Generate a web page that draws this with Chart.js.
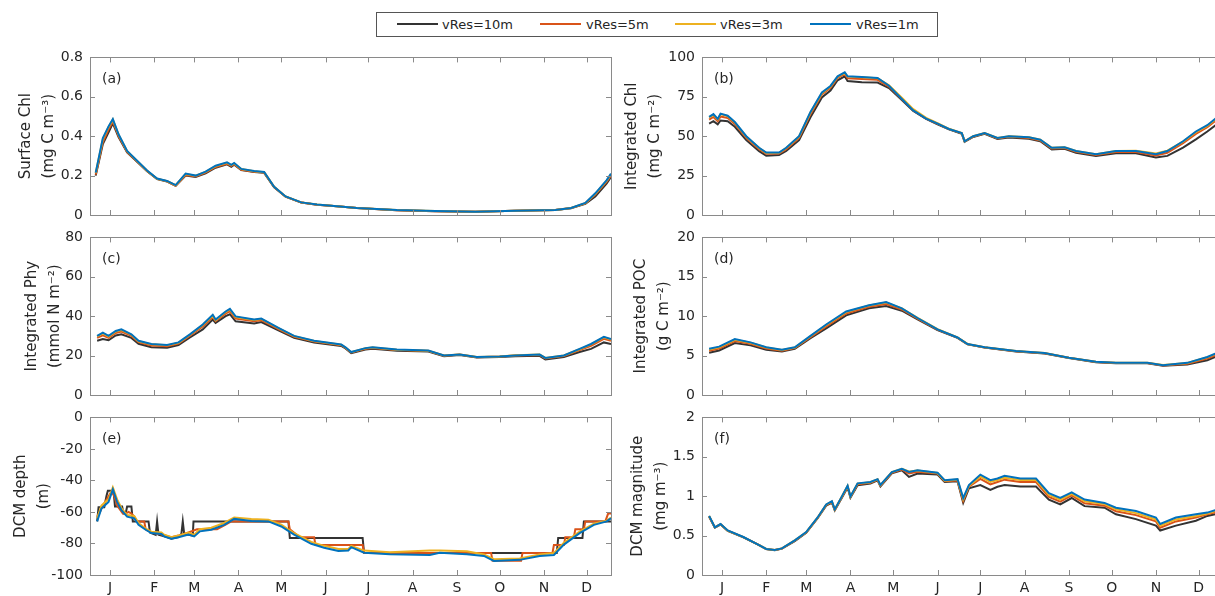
<!DOCTYPE html>
<html lang="en">
<head>
<meta charset="UTF-8">
<title>Vertical resolution comparison</title>
<script src="https://cdn.jsdelivr.net/npm/chart.js"></script>
<style>
  html, body { margin: 0; padding: 0; background: #fff; }
  body { width: 1215px; height: 596px; overflow: hidden; position: relative; font-family: "DejaVu Sans", sans-serif; color: #262626; }
  canvas { position: absolute; }
  #legend { position: absolute; left: 376px; top: 12px; width: 560px; height: 23px; border: 1px solid #555; }
  #legend .ln { position: absolute; top: 10px; width: 41px; height: 2px; }
  #legend .tx { position: absolute; top: 0; line-height: 23px; font-size: 13px; white-space: nowrap; }
</style>
</head>
<body>
  <div id="legend">
    <span class="ln" style="left:20px;background:#333333"></span><span class="tx" style="left:65px">vRes=10m</span>
    <span class="ln" style="left:163px;background:#D95319"></span><span class="tx" style="left:209px">vRes=5m</span>
    <span class="ln" style="left:298px;background:#EDB120"></span><span class="tx" style="left:343px">vRes=3m</span>
    <span class="ln" style="left:433px;background:#0072BD"></span><span class="tx" style="left:479px">vRes=1m</span>
  </div>
  <canvas id="pa" width="617" height="194" style="left:0;top:42px"></canvas>
  <canvas id="pb" width="617" height="194" style="left:612px;top:42px"></canvas>
  <canvas id="pc" width="617" height="194" style="left:0;top:222px"></canvas>
  <canvas id="pd" width="617" height="194" style="left:612px;top:222px"></canvas>
  <canvas id="pe" width="617" height="194" style="left:0;top:402px"></canvas>
  <canvas id="pf" width="617" height="194" style="left:612px;top:402px"></canvas>
<script>
// month ticks (mid-month day of year) and labels
const monthDays = [15, 46, 74, 105, 135, 166, 196, 227, 258, 288, 319, 349];
const monthLabels = ['J', 'F', 'M', 'A', 'M', 'J', 'J', 'A', 'S', 'O', 'N', 'D'];
const resLabels = ['vRes=10m', 'vRes=5m', 'vRes=3m', 'vRes=1m'];
const resColors = ['#333333', '#D95319', '#EDB120', '#0072BD'];

// (a) surface chl
const aDays = [5,10,14,17,21,27,34,41,48,55,61,68,75,82,89,97,100,102,107,116,123,130,138,149,160,174,188,216,243,271,299,327,338,348,355,363,366];
const aRes10 = [0.2,0.36,0.42,0.465,0.395,0.318,0.27,0.222,0.182,0.17,0.148,0.2,0.193,0.212,0.24,0.257,0.245,0.255,0.228,0.218,0.214,0.141,0.093,0.063,0.052,0.044,0.035,0.024,0.019,0.016,0.021,0.025,0.034,0.057,0.094,0.16,0.193];
const aRes5 = [0.205,0.37,0.435,0.475,0.4,0.32,0.272,0.223,0.183,0.171,0.149,0.203,0.195,0.215,0.244,0.26,0.249,0.258,0.23,0.22,0.216,0.142,0.093,0.063,0.052,0.044,0.035,0.024,0.019,0.016,0.021,0.025,0.035,0.059,0.104,0.17,0.2];
const aRes3 = [0.213,0.385,0.447,0.484,0.408,0.324,0.274,0.225,0.184,0.172,0.151,0.208,0.199,0.219,0.248,0.265,0.253,0.262,0.233,0.222,0.217,0.143,0.094,0.064,0.053,0.045,0.036,0.025,0.02,0.017,0.022,0.026,0.036,0.06,0.107,0.174,0.207];
const aRes1 = [0.215,0.39,0.45,0.487,0.41,0.325,0.275,0.226,0.185,0.173,0.152,0.21,0.2,0.22,0.25,0.267,0.255,0.264,0.234,0.223,0.218,0.143,0.094,0.064,0.053,0.045,0.036,0.025,0.02,0.017,0.022,0.026,0.036,0.061,0.11,0.177,0.21];

// (b) integrated chl
const bDays = [6,9,12,14,19,24,32,41,46,55,60,69,77,85,91,96,101,103,113,124,132,141,149,158,166,174,183,185,191,199,208,216,230,238,246,255,263,277,291,305,319,327,338,347,355,366];
const bRes10 = [58,59.5,57.5,60,59.5,56,47.5,40.5,37.6,38,40.6,47.5,62,74.6,79,85.5,88,85,84.3,84,80.5,73,66,61,57.6,54.3,51.6,46.5,49.5,51.5,48.2,49.2,48.4,46.8,41.6,42,39.5,37.5,39.2,39.2,36.5,37.5,42.7,48,53,60.5];
const bRes5 = [60.5,62.2,59.5,62.5,61.5,57.8,49,41.8,38.8,39,41.8,49,64,76.5,80.7,87,89.5,86.8,86.3,85.8,81.5,73.4,66.3,61.2,57.9,54.5,51.8,46.7,49.8,51.8,48.6,49.6,48.9,47.3,42.2,42.5,40.1,38.1,40,40,37.8,39.5,45.5,51.5,55.8,63.5];
const bRes3 = [62,63.6,60.7,64,62.7,58.8,49.8,42.5,39.4,39.5,42.5,49.8,65,77.3,81.5,87.7,90.2,87.8,87.4,86.8,82.3,74.4,67.2,61.6,58.2,54.7,52,46.8,50,52,48.9,50,49.3,47.8,42.7,43,40.6,38.6,40.6,40.8,39,40.8,46.5,52.6,56.6,64.6];
const bRes1 = [62.3,64,61,64.3,63,59,50,42.7,39.6,39.6,42.7,50,65.4,77.7,81.9,88,90.5,88,87.6,87,82,73.6,66.4,61.2,58,54.6,52,46.8,50,52,48.9,50,49.3,47.8,42.7,43,40.6,38.6,40.6,40.6,38.6,40.6,46.8,53,57,65];

// (c) integrated phy
const cDays = [6,10,14,19,23,30,35,44,55,63,71,80,87,89,96,99,103,116,121,133,144,158,177,180,184,194,199,216,238,249,260,272,288,299,316,320,333,344,352,361,366];
const cRes10 = [27.5,28.4,27.8,30.2,30.8,29,26,24.2,24,25.4,29.2,33.3,38.3,36.6,40,41,37.4,36.3,37,32.8,29,26.7,24.9,23.6,21.3,23.1,23.5,22.5,22.1,19.7,20.3,19,19.3,19.7,19.9,18,19.3,21.8,23.4,26.7,25.9];
const cRes5 = [29,30.3,29,31.5,32.2,30,26.8,25.1,24.8,26.1,30.1,34.8,39.6,37.5,41.3,42.6,38.8,37.4,38,33.5,29.5,27.1,25.3,23.9,21.6,23.5,23.9,22.8,22.4,19.9,20.5,19.2,19.5,20,20.3,18.5,19.8,22.8,25,28.5,27.5];
const cRes3 = [29.7,31.3,29.7,32.2,33,30.6,27.3,25.7,25.2,26.5,30.6,35.5,40.4,38,42.1,43.4,39.6,38.1,38.6,34,29.9,27.4,25.5,24.1,21.7,23.7,24.1,23,22.5,20.1,20.6,19.3,19.6,20.2,20.6,18.8,20.1,23.2,25.7,29.3,28.2];
const cRes1 = [30,31.7,30,32.5,33.3,30.8,27.5,25.9,25.4,26.7,30.8,35.8,40.7,38.3,42.4,43.7,39.9,38.3,38.8,34.1,30,27.5,25.6,24.2,21.8,23.8,24.2,23.1,22.6,20.1,20.6,19.3,19.6,20.1,20.5,18.8,20.1,23.4,25.9,29.5,28.4];

// (d) integrated POC
const dDays = [6,13,24,35,46,57,66,77,88,102,118,130,141,152,166,180,187,199,221,241,258,277,291,313,324,341,355,366];
const dRes10 = [5.36,5.65,6.6,6.3,5.75,5.53,5.85,7.2,8.45,10.1,11.0,11.3,10.7,9.6,8.25,7.25,6.42,6.02,5.53,5.28,4.7,4.17,4.03,4.02,3.7,3.88,4.41,5.24];
const dRes5 = [5.6,5.9,6.85,6.5,5.9,5.62,5.95,7.35,8.7,10.35,11.2,11.55,10.85,9.7,8.3,7.28,6.45,6.04,5.55,5.3,4.72,4.19,4.06,4.05,3.75,3.98,4.62,5.45];
const dRes3 = [5.78,6.05,7.0,6.62,6.02,5.7,6.03,7.46,8.88,10.52,11.35,11.75,11.0,9.8,8.35,7.32,6.48,6.06,5.57,5.32,4.74,4.21,4.1,4.1,3.8,4.06,4.78,5.6];
const dRes1 = [5.86,6.14,7.09,6.68,6.06,5.73,6.06,7.5,8.95,10.6,11.4,11.8,11.0,9.77,8.33,7.3,6.47,6.06,5.57,5.32,4.74,4.21,4.08,4.08,3.79,4.08,4.82,5.65];

// (e) DCM depth (coarse runs are stepped)
const eDays10 = [6,7,11,12.5,13.5,17.5,18.5,23.5,24.5,26,27,30,31,42,43,47,48,49,53,58,63,65,66,67,70,73,73.5,140,141,192,193,328,329,346,347,366];
const eRes10 = [-66,-57,-57,-50,-46.5,-46.5,-56.5,-56.5,-61,-61,-56.5,-56.5,-66,-66,-73,-74.5,-66,-74.5,-75.5,-77,-76,-74,-66,-74,-74.4,-75,-66,-66,-76.5,-76.5,-86,-86,-76.5,-76.5,-66,-66];
const eDays5 = [6,8,10,12,14,16,18,20,24,26,28,30,32,34,39,40,44,50,58,63,70,76,90,96,100,140,141,148,158,159,192,193,282,283,303,304,325,326,333,334,340,341,347,348,362,364,366];
const eRes5 = [-63,-60,-56,-53,-50,-47,-50,-56,-61,-61,-60,-61,-63,-66,-66,-71,-73,-74,-76,-75,-73,-71,-71,-68,-66,-66,-71,-76,-76,-81,-81,-86,-86,-91,-91,-86,-86,-81,-81,-76,-76,-71,-71,-66,-66,-61,-61];
const eDays1 = [6,9,14,17,20,23,27,32,35,40,44,51,53,58,63,70,74,78,86,95,102,114,126,135,144,156,165,175,182,184,193,211,239,246,265,277,284,302,316,326,333,344,354,363,366];
const eRes3 = [-64,-56,-52,-44.5,-52,-57.5,-62,-62.5,-67,-70.5,-72.5,-73,-74.5,-76,-75,-73,-74.5,-71,-70,-67,-63.5,-64.5,-65,-68,-73.5,-79,-81.5,-83.5,-83.5,-81.5,-84.5,-85.5,-84.5,-84.5,-85,-87,-90,-89.5,-87,-86,-79.5,-72.5,-67.5,-65.5,-63.5];
const eRes1 = [-66,-57.8,-53.6,-45.7,-53.6,-58.8,-63,-64,-68.2,-71.3,-73.4,-74,-75.5,-77,-76,-74.4,-75.5,-72.3,-71.3,-68.2,-64.4,-65.7,-66,-69.2,-74.4,-80.2,-82.7,-84.8,-84.4,-82.3,-85.9,-86.9,-87.3,-85.9,-86.9,-87.9,-91.1,-90.4,-87.9,-87.3,-80.7,-73.4,-68.2,-66,-64];

// (f) DCM magnitude
const fDays = [6,10,14,19,30,41,46,52,57,66,74,82,88,92,94,99,103,105,110,119,124,126,134,141,146,152,166,171,180,184,188,196,203,208,213,224,235,244,252,260,269,283,291,305,319,322,333,347,355,366];
const fRes10 = [0.74,0.6,0.64,0.56,0.478,0.378,0.328,0.315,0.335,0.43,0.535,0.72,0.88,0.92,0.82,0.98,1.11,0.98,1.14,1.16,1.2,1.125,1.29,1.328,1.245,1.287,1.275,1.18,1.19,0.915,1.1,1.142,1.08,1.12,1.142,1.122,1.122,0.957,0.895,0.977,0.874,0.854,0.771,0.709,0.627,0.565,0.627,0.689,0.75,0.792];
const fRes5 = [0.745,0.603,0.644,0.562,0.48,0.379,0.329,0.316,0.336,0.435,0.54,0.725,0.888,0.928,0.826,0.99,1.122,0.99,1.152,1.17,1.208,1.133,1.298,1.338,1.29,1.31,1.288,1.19,1.2,0.94,1.12,1.22,1.15,1.18,1.21,1.18,1.18,0.99,0.93,1.01,0.91,0.88,0.81,0.76,0.68,0.6,0.68,0.73,0.77,0.82];
const fRes3 = [0.748,0.604,0.645,0.564,0.481,0.38,0.33,0.317,0.338,0.44,0.543,0.728,0.893,0.933,0.83,0.995,1.13,0.995,1.16,1.178,1.214,1.14,1.305,1.348,1.315,1.325,1.295,1.198,1.21,0.96,1.13,1.25,1.18,1.205,1.235,1.205,1.205,1.015,0.955,1.03,0.935,0.9,0.835,0.785,0.705,0.625,0.705,0.75,0.78,0.84];
const fRes1 = [0.75,0.606,0.647,0.565,0.482,0.38,0.33,0.317,0.338,0.44,0.544,0.73,0.895,0.936,0.833,0.998,1.134,0.998,1.163,1.18,1.216,1.142,1.307,1.348,1.307,1.328,1.299,1.204,1.216,0.977,1.142,1.274,1.204,1.225,1.258,1.225,1.225,1.04,0.977,1.05,0.957,0.915,0.854,0.812,0.73,0.647,0.73,0.771,0.792,0.854];

Chart.defaults.font.family = '"DejaVu Sans", sans-serif';
Chart.defaults.color = '#262626';

function pts(days, vals) {
  return days.map((d, i) => ({ x: d, y: vals[i] }));
}

// box, inward ticks on all four sides and the panel tag
const frame = {
  id: 'frame',
  afterDatasetsDraw(chart, args, opts) {
    const { ctx, chartArea: a, scales: { x, y } } = chart;
    ctx.save();
    ctx.strokeStyle = '#8a8a8a';
    ctx.lineWidth = 1;
    ctx.beginPath();
    x.ticks.forEach(t => {
      const px = Math.round(x.getPixelForValue(t.value)) + 0.5;
      ctx.moveTo(px, a.bottom); ctx.lineTo(px, a.bottom - 5);
      ctx.moveTo(px, a.top); ctx.lineTo(px, a.top + 5);
    });
    y.ticks.forEach(t => {
      const py = Math.round(y.getPixelForValue(t.value)) + 0.5;
      ctx.moveTo(a.left, py); ctx.lineTo(a.left + 5, py);
      ctx.moveTo(a.right, py); ctx.lineTo(a.right - 5, py);
    });
    ctx.stroke();
    ctx.strokeRect(Math.round(a.left) + 0.5, Math.round(a.top) + 0.5, Math.round(a.width), Math.round(a.height));
    ctx.fillStyle = '#262626';
    ctx.font = '14px "DejaVu Sans"';
    ctx.textBaseline = 'middle';
    ctx.fillText(opts.tag, a.left + 12, a.top + 22);
    ctx.restore();
  }
};

function panel(id, tag, title, titlePad, yMin, yMax, yStep, series, months) {
  new Chart(document.getElementById(id), {
    type: 'line',
    data: {
      datasets: series.map((s, i) => ({
        label: resLabels[i],
        data: s,
        borderColor: resColors[i],
        borderWidth: 2,
        pointRadius: 0,
        tension: 0,
        order: 4 - i
      }))
    },
    options: {
      responsive: false,
      animation: false,
      layout: { padding: { top: 12, right: 6, bottom: 0, left: 0 }, autoPadding: false },
      plugins: { legend: { display: false }, tooltip: { enabled: false }, frame: { tag: tag } },
      scales: {
        x: {
          type: 'linear', min: 1, max: 366,
          grid: { display: false, drawTicks: false },
          border: { display: false },
          afterBuildTicks: s => { s.ticks = monthDays.map(v => ({ value: v })); },
          afterFit: s => { s.height = 21; },
          ticks: {
            display: months, autoSkip: false, maxRotation: 0, padding: 5,
            font: { size: 14 },
            callback: (v, i) => monthLabels[i]
          }
        },
        y: {
          min: yMin, max: yMax,
          grid: { display: false, drawTicks: false },
          border: { display: false },
          afterFit: s => { s.width = 90; },
          ticks: {
            stepSize: yStep, padding: 7, font: { size: 14 },
            callback: v => String(Number(v.toFixed(2)))
          },
          title: {
            display: true, text: title,
            font: { size: 15, lineHeight: 1.5 },
            padding: { top: titlePad, bottom: 0 }
          }
        }
      }
    },
    plugins: [frame]
  });
}

panel('pa', '(a)', ['Surface Chl', '(mg C m\u207B\u00B3)'], 15, 0, 0.8, 0.2,
  [pts(aDays, aRes10), pts(aDays, aRes5), pts(aDays, aRes3), pts(aDays, aRes1)], false);
panel('pb', '(b)', ['Integrated Chl', '(mg C m\u207B\u00B2)'], 9, 0, 100, 25,
  [pts(bDays, bRes10), pts(bDays, bRes5), pts(bDays, bRes3), pts(bDays, bRes1)], false);
panel('pc', '(c)', ['Integrated Phy', '(mmol N m\u207B\u00B2)'], 21, 0, 80, 20,
  [pts(cDays, cRes10), pts(cDays, cRes5), pts(cDays, cRes3), pts(cDays, cRes1)], false);
panel('pd', '(d)', ['Integrated POC', '(g C m\u207B\u00B2)'], 18, 0, 20, 5,
  [pts(dDays, dRes10), pts(dDays, dRes5), pts(dDays, dRes3), pts(dDays, dRes1)], false);
panel('pe', '(e)', ['DCM depth', '(m)'], 10, -100, 0, 20,
  [pts(eDays10, eRes10), pts(eDays5, eRes5), pts(eDays1, eRes3), pts(eDays1, eRes1)], true);
panel('pf', '(f)', ['DCM magnitude', '(mg m\u207B\u00B3)'], 15, 0, 2, 0.5,
  [pts(fDays, fRes10), pts(fDays, fRes5), pts(fDays, fRes3), pts(fDays, fRes1)], true);
</script>
</body>
</html>
